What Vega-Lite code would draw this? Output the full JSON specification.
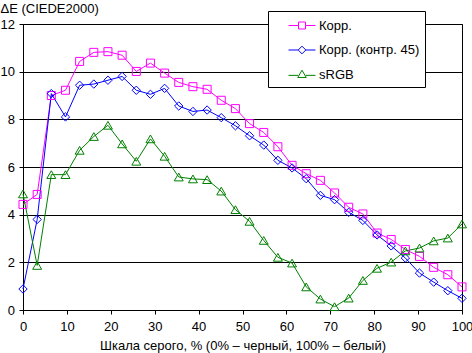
{
  "$schema": "https://vega.github.io/schema/vega-lite/v6.json",
  "width": 439,
  "height": 286,
  "autosize": {"type": "none"},
  "padding": {"left": 23, "top": 24, "right": 10, "bottom": 43},
  "background": "white",
  "config": {
    "view": {"stroke": "black", "strokeWidth": 1},
    "font": "Liberation Sans",
    "axis": {"labelFont": "Liberation Sans", "titleFont": "Liberation Sans", "labelFontSize": 13, "titleFontSize": 13, "titleFontWeight": "normal", "labelColor": "black", "titleColor": "black", "domainColor": "black", "tickColor": "black", "tickSize": 4}
  },
  "data": {"values": [
    {"x": 0, "s": "Корр.", "y": 4.43}, {"x": 3.23, "s": "Корр.", "y": 4.85}, {"x": 6.45, "s": "Корр.", "y": 9.0}, {"x": 9.68, "s": "Корр.", "y": 9.22},
    {"x": 12.9, "s": "Корр.", "y": 10.43}, {"x": 16.13, "s": "Корр.", "y": 10.81}, {"x": 19.35, "s": "Корр.", "y": 10.84}, {"x": 22.58, "s": "Корр.", "y": 10.69},
    {"x": 25.81, "s": "Корр.", "y": 10.01}, {"x": 29.03, "s": "Корр.", "y": 10.36}, {"x": 32.26, "s": "Корр.", "y": 9.94}, {"x": 35.48, "s": "Корр.", "y": 9.55},
    {"x": 38.71, "s": "Корр.", "y": 9.37}, {"x": 41.94, "s": "Корр.", "y": 9.26}, {"x": 45.16, "s": "Корр.", "y": 8.8}, {"x": 48.39, "s": "Корр.", "y": 8.45},
    {"x": 51.61, "s": "Корр.", "y": 7.82}, {"x": 54.84, "s": "Корр.", "y": 7.45}, {"x": 58.06, "s": "Корр.", "y": 6.85}, {"x": 61.29, "s": "Корр.", "y": 6.07},
    {"x": 64.52, "s": "Корр.", "y": 5.72}, {"x": 67.74, "s": "Корр.", "y": 5.44}, {"x": 70.97, "s": "Корр.", "y": 4.91}, {"x": 74.19, "s": "Корр.", "y": 4.31},
    {"x": 77.42, "s": "Корр.", "y": 4.03}, {"x": 80.65, "s": "Корр.", "y": 3.23}, {"x": 83.87, "s": "Корр.", "y": 2.96}, {"x": 87.1, "s": "Корр.", "y": 2.54},
    {"x": 90.32, "s": "Корр.", "y": 2.25}, {"x": 93.55, "s": "Корр.", "y": 1.79}, {"x": 96.77, "s": "Корр.", "y": 1.48}, {"x": 100, "s": "Корр.", "y": 0.97},
    {"x": 0, "s": "Корр. (контр. 45)", "y": 0.88}, {"x": 3.23, "s": "Корр. (контр. 45)", "y": 3.8}, {"x": 6.45, "s": "Корр. (контр. 45)", "y": 9.08}, {"x": 9.68, "s": "Корр. (контр. 45)", "y": 8.1},
    {"x": 12.9, "s": "Корр. (контр. 45)", "y": 9.43}, {"x": 16.13, "s": "Корр. (контр. 45)", "y": 9.48}, {"x": 19.35, "s": "Корр. (контр. 45)", "y": 9.64}, {"x": 22.58, "s": "Корр. (контр. 45)", "y": 9.8},
    {"x": 25.81, "s": "Корр. (контр. 45)", "y": 9.22}, {"x": 29.03, "s": "Корр. (контр. 45)", "y": 9.05}, {"x": 32.26, "s": "Корр. (контр. 45)", "y": 9.3}, {"x": 35.48, "s": "Корр. (контр. 45)", "y": 8.56},
    {"x": 38.71, "s": "Корр. (контр. 45)", "y": 8.33}, {"x": 41.94, "s": "Корр. (контр. 45)", "y": 8.39}, {"x": 45.16, "s": "Корр. (контр. 45)", "y": 8.07}, {"x": 48.39, "s": "Корр. (контр. 45)", "y": 7.73},
    {"x": 51.61, "s": "Корр. (контр. 45)", "y": 7.31}, {"x": 54.84, "s": "Корр. (контр. 45)", "y": 6.92}, {"x": 58.06, "s": "Корр. (контр. 45)", "y": 6.28}, {"x": 61.29, "s": "Корр. (контр. 45)", "y": 5.96},
    {"x": 64.52, "s": "Корр. (контр. 45)", "y": 5.51}, {"x": 67.74, "s": "Корр. (контр. 45)", "y": 4.81}, {"x": 70.97, "s": "Корр. (контр. 45)", "y": 4.63}, {"x": 74.19, "s": "Корр. (контр. 45)", "y": 4.1},
    {"x": 77.42, "s": "Корр. (контр. 45)", "y": 3.76}, {"x": 80.65, "s": "Корр. (контр. 45)", "y": 3.15}, {"x": 83.87, "s": "Корр. (контр. 45)", "y": 2.69}, {"x": 87.1, "s": "Корр. (контр. 45)", "y": 2.18},
    {"x": 90.32, "s": "Корр. (контр. 45)", "y": 1.55}, {"x": 93.55, "s": "Корр. (контр. 45)", "y": 1.17}, {"x": 96.77, "s": "Корр. (контр. 45)", "y": 0.81}, {"x": 100, "s": "Корр. (контр. 45)", "y": 0.49},
    {"x": 0, "s": "sRGB", "y": 4.87}, {"x": 3.23, "s": "sRGB", "y": 1.87}, {"x": 6.45, "s": "sRGB", "y": 5.68}, {"x": 9.68, "s": "sRGB", "y": 5.68},
    {"x": 12.9, "s": "sRGB", "y": 6.7}, {"x": 16.13, "s": "sRGB", "y": 7.28}, {"x": 19.35, "s": "sRGB", "y": 7.75}, {"x": 22.58, "s": "sRGB", "y": 6.97},
    {"x": 25.81, "s": "sRGB", "y": 6.24}, {"x": 29.03, "s": "sRGB", "y": 7.18}, {"x": 32.26, "s": "sRGB", "y": 6.45}, {"x": 35.48, "s": "sRGB", "y": 5.58},
    {"x": 38.71, "s": "sRGB", "y": 5.5}, {"x": 41.94, "s": "sRGB", "y": 5.47}, {"x": 45.16, "s": "sRGB", "y": 4.99}, {"x": 48.39, "s": "sRGB", "y": 4.21},
    {"x": 51.61, "s": "sRGB", "y": 3.72}, {"x": 54.84, "s": "sRGB", "y": 2.92}, {"x": 58.06, "s": "sRGB", "y": 2.21}, {"x": 61.29, "s": "sRGB", "y": 1.97},
    {"x": 64.52, "s": "sRGB", "y": 0.97}, {"x": 67.74, "s": "sRGB", "y": 0.46}, {"x": 70.97, "s": "sRGB", "y": 0.14}, {"x": 74.19, "s": "sRGB", "y": 0.5},
    {"x": 77.42, "s": "sRGB", "y": 1.24}, {"x": 80.65, "s": "sRGB", "y": 1.75}, {"x": 83.87, "s": "sRGB", "y": 2.01}, {"x": 87.1, "s": "sRGB", "y": 2.48},
    {"x": 90.32, "s": "sRGB", "y": 2.6}, {"x": 93.55, "s": "sRGB", "y": 2.9}, {"x": 96.77, "s": "sRGB", "y": 3.02}, {"x": 100, "s": "sRGB", "y": 3.61}
  ]},
  "encoding": {
    "x": {"field": "x", "type": "quantitative", "scale": {"domain": [0, 100], "nice": false},
      "axis": {"values": [0, 10, 20, 30, 40, 50, 60, 70, 80, 90, 100], "grid": false, "labelPadding": 6, "labelFlush": false,
        "title": "Шкала серого, % (0% – черный, 100% – белый)", "titleY": 39, "titleBaseline": "alphabetic"}},
    "y": {"field": "y", "type": "quantitative", "scale": {"domain": [0, 12], "nice": false},
      "axis": {"values": [0, 2, 4, 6, 8, 10, 12], "grid": true, "gridColor": "black", "gridOpacity": 1, "labelPadding": 4.5, "labelFlush": false,
        "title": "ΔE (CIEDE2000)", "titleAngle": 0, "titleAlign": "left", "titleBaseline": "alphabetic", "titleX": -23, "titleY": -12}}
  },
  "layer": [
    {"mark": {"type": "line", "strokeWidth": 1},
      "encoding": {
        "color": {"field": "s", "type": "nominal",
          "scale": {"domain": ["Корр.", "Корр. (контр. 45)", "sRGB"], "range": ["#ff00ff", "#0000ff", "#008000"]},
          "legend": {"title": null, "orient": "none", "legendX": 245, "legendY": -13, "padding": 5.5, "symbolOffset": 19.5,
            "symbolSize": 289, "rowPadding": 8.5, "labelOffset": 8, "labelFont": "Liberation Sans", "labelFontSize": 13, "labelColor": "black",
            "strokeColor": "black", "fillColor": "white", "cornerRadius": 0,
            "labelExpr": "datum.label + '\u00a0\u00a0\u00a0'",
            "encode": {"symbols": {"update": {
              "shape": {"signal": "datum.value === 'Корр.' ? 'M-1.59,0H-0.41M0.41,0H1.59M-0.41,-0.41H0.41V0.41H-0.41Z' : datum.value === 'sRGB' ? 'M-1.59,0.1H-0.45M0.45,0.1H1.59M0,-0.5L0.5,0.35L-0.5,0.35Z' : 'M-1.59,0H-0.45M0.45,0H1.59M0,-0.45L0.45,0L0,0.45L-0.45,0Z'"},
              "fill": {"value": "transparent"},
              "stroke": {"signal": "scale('color', datum.value)"},
              "strokeWidth": {"value": 1},
              "opacity": {"value": 1}
            }}}}
        }
      }},
    {"transform": [{"filter": "datum.s === 'Корр.'"}],
      "mark": {"type": "point", "shape": "square", "filled": false, "color": "#ff00ff", "strokeWidth": 1, "opacity": 1, "size": 64}},
    {"transform": [{"filter": "datum.s === 'Корр. (контр. 45)'"}],
      "mark": {"type": "point", "shape": "diamond", "filled": false, "color": "#0000ff", "strokeWidth": 1, "opacity": 1, "size": 70}},
    {"transform": [{"filter": "datum.s === 'sRGB'"}],
      "mark": {"type": "point", "shape": "triangle-up", "filled": false, "color": "#008000", "strokeWidth": 1, "opacity": 1, "size": 80}}
  ]
}
